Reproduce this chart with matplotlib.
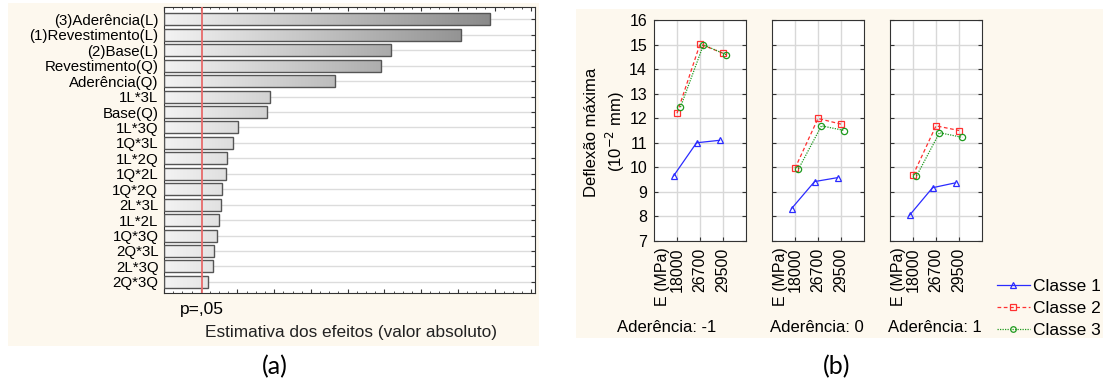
import numpy as np
import matplotlib
matplotlib.use('Agg')
import matplotlib.pyplot as plt
from matplotlib.patches import Rectangle
from matplotlib.colors import LinearSegmentedColormap
from matplotlib.lines import Line2D
import matplotlib.transforms as mtransforms

plt.rcParams['font.family'] = ['Liberation Sans', 'DejaVu Sans']
plt.rcParams['font.size'] = 11.5

# ---- dados (a): grafico de Pareto ----
effect_labels = ['(3)Aderência(L)', '(1)Revestimento(L)', '(2)Base(L)', 'Revestimento(Q)',
                 'Aderência(Q)', '1L*3L', 'Base(Q)', '1L*3Q', '1Q*3L', '1L*2Q', '1Q*2L',
                 '1Q*2Q', '2L*3L', '1L*2L', '1Q*3Q', '2Q*3L', '2L*3Q', '2Q*3Q']
effect_values = [17.76, 16.18, 12.35, 11.81, 9.31, 5.78, 5.60, 4.05, 3.73, 3.43, 3.40,
                 3.15, 3.12, 2.99, 2.87, 2.72, 2.67, 2.39]
p_crit = 2.05

# ---- dados (b): deflexao maxima ----
e_labels = ['18000', '26700', '29500']
aderencia = ['-1', '0', '1']
classe1 = [[9.65, 11.0, 11.1], [8.32, 9.42, 9.58], [8.05, 9.17, 9.37]]
classe2 = [[12.2, 15.02, 14.65], [9.96, 11.99, 11.76], [9.68, 11.69, 11.5]]
classe3 = [[12.45, 14.99, 14.58], [9.93, 11.69, 11.5], [9.64, 11.41, 11.22]]

W, H = 1105, 385
fig = plt.figure(figsize=(W / 100, H / 100), dpi=100)
cream = '#fdf8ee'


def fx(px):
    return px / W


def fy(py):
    return 1 - py / H


# fundos creme
fig.patches.append(Rectangle((fx(8), fy(346)), fx(531), 343 / H, transform=fig.transFigure,
                             facecolor=cream, edgecolor='none', zorder=-10))
fig.patches.append(Rectangle((fx(576), fy(338)), fx(527), 329 / H, transform=fig.transFigure,
                             facecolor=cream, edgecolor='none', zorder=-10))

# ================= (a) =================
ax = fig.add_axes([fx(164), fy(293), fx(371), 286 / H])
n = len(effect_labels)
ypos = np.arange(n)[::-1]
xmax = 20.2
cmap = LinearSegmentedColormap.from_list('g', ['#f3f3f3', '#7c7c7c'])
grad = np.linspace(0, 1, 256).reshape(1, -1)
bars = ax.barh(ypos, effect_values, height=0.78, facecolor='none', edgecolor='#555555',
               linewidth=1.0, zorder=3)
for b in bars:
    im = ax.imshow(grad, extent=[0, xmax, b.get_y(), b.get_y() + b.get_height()],
                   aspect='auto', cmap=cmap, vmin=0, vmax=1, zorder=2)
    im.set_clip_path(b)
ax.axvline(p_crit, color='#e86a6a', lw=1.3, zorder=4)
ax.set_xlim(0, xmax)
ax.set_ylim(-0.72, n - 1 + 0.8)
ax.set_yticks(ypos)
ax.set_yticklabels(effect_labels)
ax.set_xticks(np.arange(0, 20.1, 2))
ax.set_xticks(np.arange(0, 20.1, 0.5), minor=True)
ax.set_xticklabels([])
ax.tick_params(axis='both', which='both', direction='in', top=True, right=True,
               color='#333333', length=3)
ax.tick_params(axis='x', which='minor', length=1.5)
ax.tick_params(axis='y', pad=4, labelsize=10.8)
ax.yaxis.grid(True, color='#dcdcdc', lw=1, zorder=0)
ax.set_axisbelow(True)
for s in ax.spines.values():
    s.set_color('#333333')
trans = mtransforms.blended_transform_factory(ax.transData, ax.transAxes)
ax.text(p_crit, -0.056, 'p=,05', transform=trans, ha='center', va='center', fontsize=12.5)
fig.text(fx(351), fy(333), 'Estimativa dos efeitos (valor absoluto)', ha='center', va='center',
         fontsize=12.4, color='#222222')

# ================= (b) =================
lefts = [654, 772, 890]
offs = [-0.15, 0.0, 0.15]
styles = [dict(color='#2b2bff', ls='-', marker='^', ms=5),
          dict(color='#ff3030', ls=(0, (3, 2)), marker='s', ms=5),
          dict(color='#1e9a1e', ls=(0, (1, 1)), marker='o', ms=4.5)]
xs = np.array([1, 2, 3])
label_cx = [667, 817, 935]
for i, left in enumerate(lefts):
    axb = fig.add_axes([fx(left), fy(241), fx(92), 221 / H])
    for data, st, o in zip([classe1, classe2, classe3], styles, offs):
        axb.plot(xs + o, data[i], color=st['color'], ls=st['ls'], lw=0.9, marker=st['marker'],
                 ms=st['ms'], mfc='none', mec=st['color'], mew=0.9, zorder=3)
    axb.set_xlim(0, 4)
    axb.set_ylim(7, 16)
    axb.set_yticks(np.arange(7, 17))
    axb.set_xticks(xs)
    axb.set_xticklabels(e_labels, rotation=90, va='top', ha='center')
    axb.grid(True, color='#d8d8d8', lw=1)
    axb.set_axisbelow(True)
    axb.tick_params(direction='in', right=True, color='#333333', length=3, pad=5,
                    labelsize=11.5)
    if i > 0:
        axb.set_yticklabels([])
    for s in axb.spines.values():
        s.set_color('#333333')
    tb = mtransforms.blended_transform_factory(axb.transData, axb.transAxes)
    axb.text(0.35, -0.03, 'E (MPa)', transform=tb, rotation=90, ha='center', va='top',
             fontsize=11.5)
    fig.text(fx(label_cx[i]), fy(328), 'Aderência: ' + aderencia[i], ha='center', va='center',
             fontsize=12)

fig.text(fx(592), fy(132), 'Deflexão máxima', rotation=90, ha='center', va='center', fontsize=12)
fig.text(fx(615), fy(132), '(10$^{-2}$ mm)', rotation=90, ha='center', va='center', fontsize=12)

handles = [Line2D([], [], color=st['color'], ls=st['ls'], lw=0.9, marker=st['marker'],
                  ms=st['ms'] - 0.5, mfc='none', mec=st['color'], mew=0.9) for st in styles]
fig.legend(handles, ['Classe 1', 'Classe 2', 'Classe 3'], loc='upper left',
           bbox_to_anchor=(fx(990), fy(272)), frameon=False, handlelength=1.9,
           handletextpad=0.2, labelspacing=0.4, borderaxespad=0, fontsize=12.5)

# legendas (a) e (b)
fig.text(fx(275), fy(367), '(a)', ha='center', va='center', fontsize=18, family='Lato')
fig.text(fx(837), fy(367), '(b)', ha='center', va='center', fontsize=18, family='Lato')

fig.savefig('out.png', dpi=100, facecolor='white')
